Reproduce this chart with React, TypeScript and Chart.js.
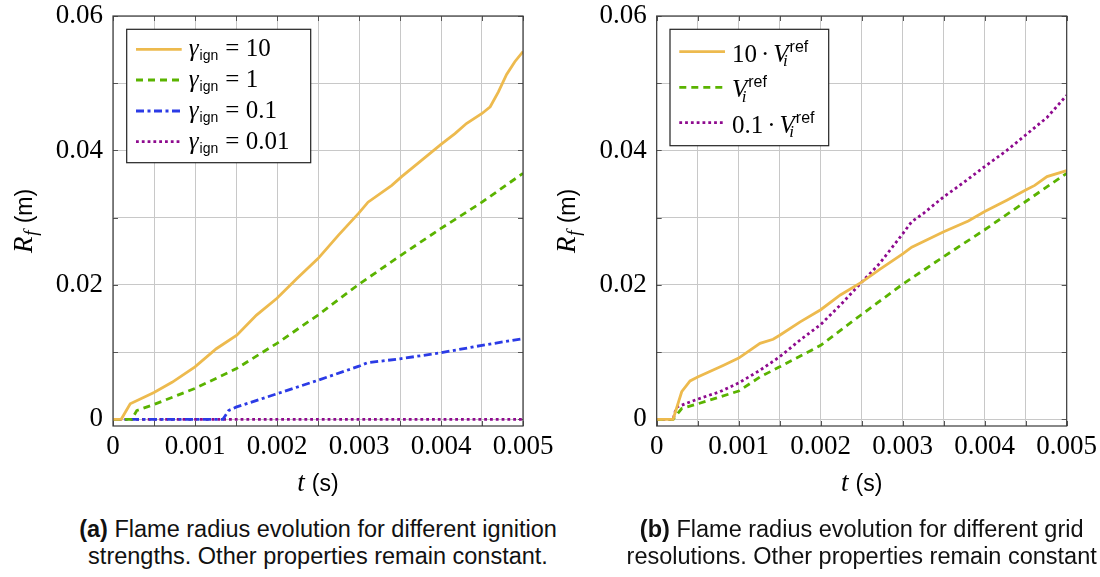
import React, { useEffect, useRef } from "react";
import { Chart, registerables } from "chart.js";

Chart.register(...registerables);

// ---------- data ----------
const X_TICKS = [0, 0.0005, 0.001, 0.0015, 0.002, 0.0025, 0.003, 0.0035, 0.004, 0.0045, 0.005];
const X_LABELS = ["0", "", "0.001", "", "0.002", "", "0.003", "", "0.004", "", "0.005"];
const Y_TICKS = [0, 0.01, 0.02, 0.03, 0.04, 0.05, 0.06];
const Y_LABELS = ["0", "", "0.02", "", "0.04", "", "0.06"];

// (a) ignition strengths
const tIgn10 = [0, 0.0001, 0.00021, 0.0005, 0.00072, 0.001, 0.00126, 0.00151, 0.00175, 0.002, 0.00224, 0.0025, 0.00275, 0.003, 0.00311, 0.0034, 0.00352, 0.00374, 0.004, 0.00417, 0.00431, 0.0045, 0.0046, 0.0047, 0.0048, 0.0049, 0.005];
const rIgn10 = [0, 0, 0.0023, 0.004, 0.0055, 0.0078, 0.0105, 0.0125, 0.0155, 0.018, 0.0209, 0.0239, 0.0274, 0.0307, 0.0323, 0.0348, 0.0361, 0.0383, 0.0409, 0.0425, 0.044, 0.0455, 0.0465, 0.0487, 0.0513, 0.0532, 0.0547];
const tIgn1 = [0, 0.00023, 0.00029, 0.0005, 0.001, 0.0015, 0.002, 0.0025, 0.003, 0.0035, 0.004, 0.0045, 0.005];
const rIgn1 = [0, 0, 0.0013, 0.0022, 0.0046, 0.0075, 0.0113, 0.0155, 0.0201, 0.0243, 0.0284, 0.0323, 0.0366];
const tIgn01 = [0, 0.00134, 0.00141, 0.0015, 0.002, 0.0025, 0.003, 0.0031, 0.0035, 0.004, 0.0045, 0.005];
const rIgn01 = [0, 0, 0.0013, 0.0018, 0.0038, 0.0058, 0.0079, 0.0084, 0.009, 0.0099, 0.011, 0.012];
const tIgn001 = [0, 0.005];
const rIgn001 = [0, 0];

// (b) grid resolutions
const tV10 = [0, 0.0002, 0.000305, 0.000407, 0.0005, 0.00081, 0.001, 0.00126, 0.00142, 0.0015, 0.00175, 0.002, 0.00224, 0.0025, 0.00272, 0.003, 0.00311, 0.00333, 0.0035, 0.0038, 0.004, 0.00427, 0.0045, 0.00461, 0.00476, 0.005];
const rV10 = [0, 0, 0.0041, 0.0057, 0.0063, 0.008, 0.0091, 0.0113, 0.0119, 0.0125, 0.0145, 0.0163, 0.0185, 0.0204, 0.0223, 0.0246, 0.0256, 0.0269, 0.0279, 0.0295, 0.0309, 0.0326, 0.0341, 0.0348, 0.0361, 0.037];
const tV1 = [0, 0.0002, 0.000305, 0.0005, 0.001, 0.00126, 0.0015, 0.002, 0.0025, 0.003, 0.0035, 0.004, 0.0045, 0.005];
const rV1 = [0, 0, 0.0016, 0.0023, 0.0042, 0.0063, 0.0078, 0.011, 0.0156, 0.0201, 0.0242, 0.0282, 0.0324, 0.0366];
const tV01 = [0, 0.0002, 0.00024, 0.0005, 0.00077, 0.001, 0.00126, 0.0015, 0.00175, 0.002, 0.00224, 0.0025, 0.00272, 0.003, 0.00311, 0.00325, 0.0035, 0.00374, 0.004, 0.00427, 0.0045, 0.00476, 0.005];
const rV01 = [0, 0, 0.0018, 0.003, 0.0041, 0.0054, 0.0073, 0.0093, 0.0118, 0.0141, 0.017, 0.0204, 0.0232, 0.0276, 0.0294, 0.0306, 0.0331, 0.0352, 0.0376, 0.04, 0.0423, 0.0449, 0.0482];

// ---------- styles ----------
const YELLOW = "#EDBA4E";
const GREEN = "#5AB300";
const BLUE = "#2B3BE6";
const PURPLE = "#8E0A8E";
const GRID = "#c8c8c8";
const SERIF = "'Liberation Serif', 'DejaVu Serif', serif";
const SANS = "'Liberation Sans', Arial, sans-serif";
const S25 = `25px ${SERIF}`;
const I25 = `italic 25px ${SERIF}`;

type Run = { t: string; font: string; dx?: number; dy?: number; adv?: boolean };

function runsWidth(ctx: CanvasRenderingContext2D, runs: Run[]) {
  let cx = 0;
  for (const r of runs) {
    ctx.font = r.font;
    if (r.adv !== false) cx += (r.dx || 0) + ctx.measureText(r.t).width;
  }
  return cx;
}
function drawRuns(ctx: CanvasRenderingContext2D, runs: Run[], x: number, y: number) {
  let cx = x;
  ctx.textAlign = "left";
  ctx.textBaseline = "alphabetic";
  for (const r of runs) {
    ctx.font = r.font;
    const px = cx + (r.dx || 0);
    ctx.fillText(r.t, px, y + (r.dy || 0));
    if (r.adv !== false) cx = px + ctx.measureText(r.t).width;
  }
}

const gammaLabel = (v: string): Run[] => [
  { t: "γ", font: I25 },
  { t: "ign", font: `14px ${SANS}`, dx: 1, dy: 4 },
  { t: "=", font: S25, dx: 7 },
  { t: v, font: S25, dx: 6.5 },
];
const vLabel = (pre: string | null): Run[] => {
  const r: Run[] = [];
  if (pre) {
    r.push({ t: pre, font: S25 });
    r.push({ t: "·", font: S25, dx: 4 });
  }
  r.push({ t: "V", font: I25, dx: pre ? 4 : 0 });
  r.push({ t: "i", font: `italic 17px ${SERIF}`, dx: -5.5, dy: 4.5, adv: false });
  r.push({ t: "ref", font: `16px ${SANS}`, dx: 1, dy: -10 });
  return r;
};

interface PanelOpts {
  legend: { dx: number; dy: number; w: number; h: number; rows: number[]; runs: Run[][]; baseOff: number };
  yTitleX: number;
}

const panelPlugin = {
  id: "panel",
  beforeDatasetsDraw(chart: any) {
    const { ctx, chartArea: a } = chart;
    const xs = chart.scales.x;
    const ys = chart.scales.y;
    ctx.save();
    ctx.strokeStyle = "#555";
    ctx.lineWidth = 1;
    ctx.beginPath();
    for (const v of X_TICKS) {
      const p = Math.round(xs.getPixelForValue(v)) + 0.5;
      ctx.moveTo(p, a.bottom); ctx.lineTo(p, a.bottom - 5);
      ctx.moveTo(p, a.top); ctx.lineTo(p, a.top + 5);
    }
    for (const v of Y_TICKS) {
      const p = Math.round(ys.getPixelForValue(v)) + 0.5;
      ctx.moveTo(a.left, p); ctx.lineTo(a.left + 5, p);
      ctx.moveTo(a.right, p); ctx.lineTo(a.right - 5, p);
    }
    ctx.stroke();
    ctx.restore();
  },
  afterDatasetsDraw(chart: any, _args: any, opts: PanelOpts) {
    const { ctx, chartArea: a } = chart;
    ctx.save();
    // frame
    ctx.strokeStyle = "#3a3a3a";
    ctx.lineWidth = 1.2;
    ctx.strokeRect(a.left, a.top, a.right - a.left, a.bottom - a.top);
    // legend
    const L = opts.legend;
    const bx = a.left + L.dx;
    const by = a.top + L.dy;
    ctx.fillStyle = "#fff";
    ctx.fillRect(bx, by, L.w, L.h);
    ctx.strokeStyle = "#222";
    ctx.lineWidth = 1.2;
    ctx.strokeRect(bx, by, L.w, L.h);
    chart.data.datasets.forEach((ds: any, i: number) => {
      const yy = by + L.rows[i];
      ctx.save();
      ctx.strokeStyle = ds.borderColor;
      ctx.lineWidth = ds.borderWidth;
      ctx.setLineDash(ds.borderDash || []);
      ctx.beginPath();
      ctx.moveTo(bx + 9.3, yy);
      ctx.lineTo(bx + 55, yy);
      ctx.stroke();
      ctx.restore();
      ctx.fillStyle = "#000";
      drawRuns(ctx, L.runs[i], bx + 62, yy + L.baseOff);
    });
    ctx.restore();
  },
  afterDraw(chart: any, _args: any, opts: PanelOpts) {
    const { ctx, chartArea: a } = chart;
    ctx.save();
    ctx.fillStyle = "#000";
    // x title
    const xr: Run[] = [
      { t: "t", font: `italic 27px ${SERIF}` },
      { t: "(s)", font: `23px ${SANS}`, dx: 7 },
    ];
    const xw = runsWidth(ctx, xr);
    drawRuns(ctx, xr, (a.left + a.right) / 2 - xw / 2, 491);
    // y title
    const yr: Run[] = [
      { t: "R", font: `italic 27px ${SERIF}` },
      { t: "f", font: `italic 19px ${SERIF}`, dx: 1, dy: 5 },
      { t: "(m)", font: `23px ${SANS}`, dx: 7 },
    ];
    const yw = runsWidth(ctx, yr);
    ctx.translate(opts.yTitleX, (a.top + a.bottom) / 2);
    ctx.rotate(-Math.PI / 2);
    drawRuns(ctx, yr, -yw / 2, 0);
    ctx.restore();
  },
};

function mk(t: number[], r: number[]) {
  return t.map((x, i) => ({ x, y: r[i] }));
}

interface PanelProps {
  left: number;
  width: number;
  plotLeft: number;
  plotRight: number;
  datasets: any[];
  panel: PanelOpts;
}

function Panel({ left, width, plotLeft, plotRight, datasets, panel }: PanelProps) {
  const ref = useRef<HTMLCanvasElement | null>(null);
  useEffect(() => {
    if (!ref.current) return;
    const H = 500;
    const tickFont = { family: SERIF, size: 27 };
    const chart = new Chart(ref.current, {
      type: "line",
      data: { datasets },
      options: {
        animation: false,
        responsive: false,
        devicePixelRatio: 1,
        layout: { padding: { top: 16, right: left + width - plotRight, bottom: 0, left: 0 } },
        elements: { point: { radius: 0 }, line: { tension: 0 } },
        plugins: {
          legend: { display: false },
          tooltip: { enabled: false },
          panel,
        } as any,
        scales: {
          x: {
            type: "linear",
            min: 0,
            max: 0.005,
            afterBuildTicks: (s: any) => {
              s.ticks = X_TICKS.map((v) => ({ value: v }));
            },
            afterFit: (s: any) => {
              s.height = H - 426;
              s.paddingLeft = 0; s.paddingRight = 0; s.paddingTop = 0; s.paddingBottom = 0;
            },
            grid: { color: GRID, lineWidth: 1, drawTicks: false },
            border: { display: false },
            ticks: {
              autoSkip: false,
              maxRotation: 0,
              minRotation: 0,
              padding: 5,
              color: "#000",
              font: tickFont,
              callback: (_v: any, i: number) => X_LABELS[i],
            },
          },
          y: {
            type: "linear",
            min: -0.001,
            max: 0.06,
            afterBuildTicks: (s: any) => {
              s.ticks = Y_TICKS.map((v) => ({ value: v }));
            },
            afterFit: (s: any) => {
              s.width = plotLeft - left;
              s.paddingLeft = 0; s.paddingRight = 0; s.paddingTop = 0; s.paddingBottom = 0;
            },
            grid: { color: GRID, lineWidth: 1, drawTicks: false },
            border: { display: false },
            ticks: {
              autoSkip: false,
              padding: 10,
              color: "#000",
              font: tickFont,
              callback: (_v: any, i: number) => Y_LABELS[i],
            },
          },
        },
      } as any,
      plugins: [panelPlugin as any],
    });
    return () => chart.destroy();
  }, []);
  return (
    <canvas
      ref={ref}
      width={width}
      height={500}
      style={{ position: "absolute", left, top: 0, width, height: 500 }}
    />
  );
}

const common = { fill: false, pointRadius: 0, borderWidth: 2.8, borderCapStyle: "butt" };

const datasetsA = [
  { label: "γign = 10", data: mk(tIgn10, rIgn10), borderColor: YELLOW, ...common },
  { label: "γign = 1", data: mk(tIgn1, rIgn1), borderColor: GREEN, borderDash: [7, 5], ...common },
  { label: "γign = 0.1", data: mk(tIgn01, rIgn01), borderColor: BLUE, borderDash: [8, 3.5, 3, 3.5], ...common },
  { label: "γign = 0.01", data: mk(tIgn001, rIgn001), borderColor: PURPLE, borderDash: [2.8, 3], ...common },
];
const datasetsB = [
  { label: "10 · Vi ref", data: mk(tV10, rV10), borderColor: YELLOW, ...common },
  { label: "Vi ref", data: mk(tV1, rV1), borderColor: GREEN, borderDash: [7, 5], ...common },
  { label: "0.1 · Vi ref", data: mk(tV01, rV01), borderColor: PURPLE, borderDash: [2.8, 3], ...common },
];

const panelA: PanelOpts = {
  legend: {
    dx: 13.7, dy: 13.3, w: 184, h: 133.4,
    rows: [20, 50.7, 81.7, 112.4],
    runs: [gammaLabel("10"), gammaLabel("1"), gammaLabel("0.1"), gammaLabel("0.01")],
    baseOff: 7,
  },
  yTitleX: 31.5,
};
const panelB: PanelOpts = {
  legend: {
    dx: 13.3, dy: 13.3, w: 158.7, h: 116.4,
    rows: [22.4, 58, 93.4],
    runs: [vLabel("10"), vLabel(null), vLabel("0.1")],
    baseOff: 10,
  },
  yTitleX: 30,
};

const captionStyle: React.CSSProperties = {
  position: "absolute",
  top: 516,
  width: 600,
  textAlign: "center",
  fontFamily: SANS,
  fontSize: "23.5px",
  lineHeight: "27px",
  color: "#111",
  whiteSpace: "nowrap",
};

export default function App() {
  useEffect(() => {
    document.body.style.margin = "0";
    document.body.style.background = "#fff";
  }, []);
  return (
    <div style={{ position: "relative", width: 1100, height: 577, overflow: "hidden", background: "#fff" }}>
      <Panel left={0} width={570} plotLeft={113} plotRight={523} datasets={datasetsA} panel={panelA} />
      <Panel left={545} width={555} plotLeft={656.7} plotRight={1066.7} datasets={datasetsB} panel={panelB} />
      <div style={{ ...captionStyle, left: 318 - 300 }}>
        <b>(a)</b> Flame radius evolution for different ignition
        <br />
        strengths. Other properties remain constant.
      </div>
      <div style={{ ...captionStyle, left: 861.7 - 300 }}>
        <b>(b)</b> Flame radius evolution for different grid
        <br />
        resolutions. Other properties remain constant
      </div>
    </div>
  );
}
